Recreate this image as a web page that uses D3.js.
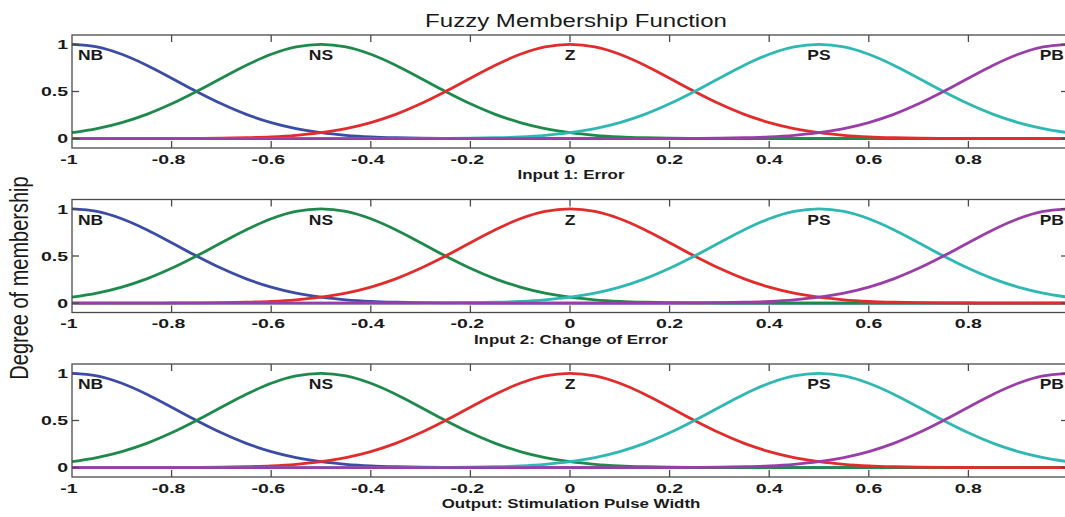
<!DOCTYPE html>
<html>
<head>
<meta charset="utf-8">
<script src="https://cdn.jsdelivr.net/npm/d3@7"></script>
<style>
  html, body { margin: 0; padding: 0; background: #fff; overflow: hidden; }
  svg { display: block; font-family: "Liberation Sans", Arial, sans-serif; }
</style>
</head>
<body>
<div id="chart"></div>
<script>
const xSamples = d3.range(41).map(i => -1 + i * 0.05);

const mfNames = ["NB", "NS", "Z", "PS", "PB"];
const mfCenters = [-1, -0.5, 0, 0.5, 1];

const nbValues = [1.000, 0.973, 0.895, 0.779, 0.641, 0.500, 0.369, 0.257, 0.170, 0.106,
  0.063, 0.035, 0.018, 0.009, 0.004, 0.002, 0.001, 0, 0, 0,
  0, 0, 0, 0, 0, 0, 0, 0, 0, 0,
  0, 0, 0, 0, 0, 0, 0, 0, 0, 0, 0];
const nsValues = [0.063, 0.106, 0.170, 0.257, 0.369, 0.500, 0.641, 0.779, 0.895, 0.973,
  1.000, 0.973, 0.895, 0.779, 0.641, 0.500, 0.369, 0.257, 0.170, 0.106,
  0.063, 0.035, 0.018, 0.009, 0.004, 0.002, 0.001, 0, 0, 0,
  0, 0, 0, 0, 0, 0, 0, 0, 0, 0, 0];
const zValues = [0, 0, 0, 0, 0.001, 0.002, 0.004, 0.009, 0.018, 0.035,
  0.063, 0.106, 0.170, 0.257, 0.369, 0.500, 0.641, 0.779, 0.895, 0.973,
  1.000, 0.973, 0.895, 0.779, 0.641, 0.500, 0.369, 0.257, 0.170, 0.106,
  0.063, 0.035, 0.018, 0.009, 0.004, 0.002, 0.001, 0, 0, 0, 0];
const psValues = [0, 0, 0, 0, 0, 0, 0, 0, 0, 0,
  0, 0, 0, 0, 0.001, 0.002, 0.004, 0.009, 0.018, 0.035,
  0.063, 0.106, 0.170, 0.257, 0.369, 0.500, 0.641, 0.779, 0.895, 0.973,
  1.000, 0.973, 0.895, 0.779, 0.641, 0.500, 0.369, 0.257, 0.170, 0.106, 0.063];
const pbValues = [0, 0, 0, 0, 0, 0, 0, 0, 0, 0,
  0, 0, 0, 0, 0, 0, 0, 0, 0, 0,
  0, 0, 0, 0, 0.001, 0.002, 0.004, 0.009, 0.018, 0.035,
  0.063, 0.106, 0.170, 0.257, 0.369, 0.500, 0.641, 0.779, 0.895, 0.973, 1.000];

const mfSeries = [nbValues, nsValues, zValues, psValues, pbValues];

const panelLabels = ["Input 1: Error", "Input 2: Change of Error", "Output: Stimulation Pulse Width"];
const xTickValues = [-1, -0.8, -0.6, -0.4, -0.2, 0, 0.2, 0.4, 0.6, 0.8, 1];
const xTickLabels = ["-1", "-0.8", "-0.6", "-0.4", "-0.2", "0", "0.2", "0.4", "0.6", "0.8"];
const yTickValues = [0, 0.5, 1];
const yTickLabels = ["0", "0.5", "1"];
const labelLevel = 0.83;

const colors = ["#3b4ca6", "#1d8a4b", "#e32b2b", "#2db8b3", "#9b3da8"];

const width = 1065, height = 517;
const svg = d3.select("#chart").append("svg")
  .attr("width", width)
  .attr("height", height);

const x = d3.scaleLinear().domain([-1, 1]).range([72, 1068]);

// stretched text helper (the figure is wider than its fonts)
function addText(sel, tx, ty, str, sx, opts) {
  return sel.append("text")
    .attr("transform", `translate(${tx},${ty}) scale(${sx},1)`)
    .attr("text-anchor", opts.anchor || "middle")
    .attr("dy", opts.dy || 0)
    .style("font-size", opts.size + "px")
    .style("font-weight", opts.weight || "normal")
    .attr("fill", "#1a1a1a")
    .text(str);
}

// title
addText(svg, 576, 27, "Fuzzy Membership Function", 1.3, { size: 18.5 });

// y label
svg.append("text")
  .attr("transform", "translate(28,278) scale(1.3,1) rotate(-90)")
  .attr("text-anchor", "middle")
  .style("font-size", "20px")
  .attr("fill", "#1a1a1a")
  .text("Degree of membership");

panelLabels.forEach((label, p) => {
  const top = 35 + p * 164.5;
  const bottom = top + 113;
  const y = d3.scaleLinear().domain([-0.1, 1.1]).range([bottom, top]);
  const g = svg.append("g");

  const line = d3.line()
    .x((d, i) => x(xSamples[i]))
    .y(d => y(d))
    .curve(d3.curveMonotoneX);

  // curves
  mfSeries.forEach((vals, k) => {
    g.append("path")
      .datum(vals)
      .attr("fill", "none")
      .attr("stroke", colors[k])
      .attr("stroke-width", 2.8)
      .attr("stroke-linejoin", "round")
      .attr("d", line);
  });

  // frame
  const frameColor = "#4a4a4a";
  g.append("rect")
    .attr("x", x(-1)).attr("y", top)
    .attr("width", x(1) - x(-1)).attr("height", bottom - top)
    .attr("fill", "none")
    .attr("stroke", frameColor)
    .attr("stroke-width", 1.3);

  // inward ticks
  xTickValues.filter(v => v > -1 && v < 1).forEach(v => {
    g.append("line").attr("x1", x(v)).attr("x2", x(v))
      .attr("y1", top).attr("y2", top + 7)
      .attr("stroke", frameColor).attr("stroke-width", 1.3);
    g.append("line").attr("x1", x(v)).attr("x2", x(v))
      .attr("y1", bottom).attr("y2", bottom - 7)
      .attr("stroke", frameColor).attr("stroke-width", 1.3);
  });
  yTickValues.forEach(v => {
    g.append("line").attr("x1", x(-1)).attr("x2", x(-1) + 7)
      .attr("y1", y(v)).attr("y2", y(v))
      .attr("stroke", frameColor).attr("stroke-width", 1.3);
    g.append("line").attr("x1", x(1)).attr("x2", x(1) - 7)
      .attr("y1", y(v)).attr("y2", y(v))
      .attr("stroke", frameColor).attr("stroke-width", 1.3);
  });

  // tick labels
  xTickLabels.forEach((t, i) => {
    const v = xTickValues[i];
    addText(g, x(v) - (v < 0 ? 3 : 0), bottom + 15.5, t, 1.5,
      { size: 13, weight: "bold" });
  });
  yTickValues.forEach((v, i) => {
    addText(g, 68, y(v), yTickLabels[i], 1.5,
      { size: 13, weight: "bold", anchor: "end", dy: "0.36em" });
  });

  // membership function names
  mfNames.forEach((name, k) => {
    const c = mfCenters[k];
    let px = x(c), anchor = "middle";
    if (c === -1) { px = x(-1) + 6; anchor = "start"; }
    if (c === 1) { px = 1064; anchor = "end"; }
    addText(g, px, y(labelLevel), name, 1.25,
      { size: 14, weight: "bold", anchor: anchor });
  });

  // axis label
  addText(g, 571, bottom + 31, label, 1.3, { size: 13, weight: "bold" });
});
</script>
</body>
</html>
